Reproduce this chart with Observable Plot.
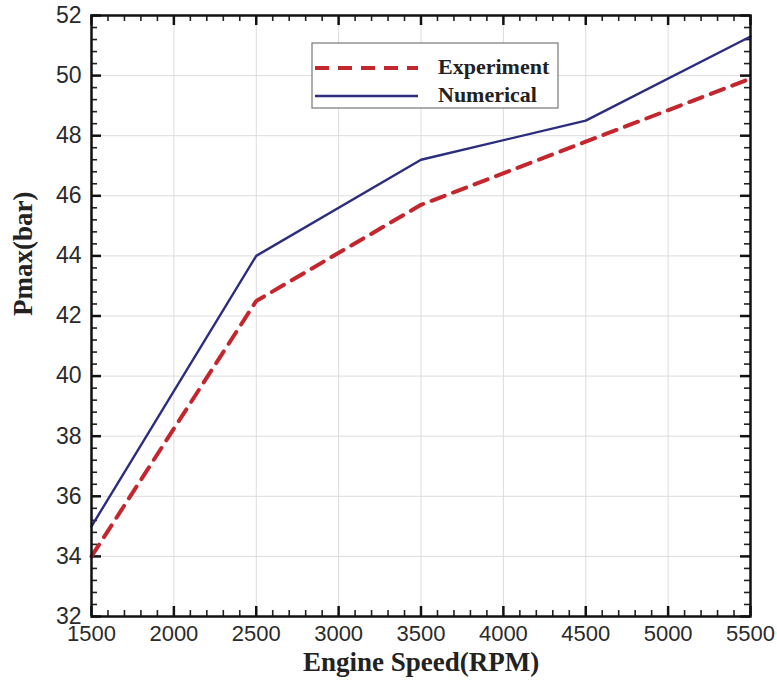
<!DOCTYPE html>
<html>
<head>
<meta charset="utf-8">
<script src="https://cdn.jsdelivr.net/npm/d3@7"></script>
<script src="https://cdn.jsdelivr.net/npm/@observablehq/plot@0.6"></script>
<style>
  html, body { margin: 0; padding: 0; background: #fff; }
  #chart { position: relative; width: 777px; height: 686px; }
</style>
</head>
<body>
<div id="chart"></div>
<script>
// ---- data ----
const speeds = [1500, 2500, 3500, 4500, 5500];
const experiment = [34.0, 42.5, 45.7, 47.8, 49.9];
const numerical = [35.0, 44.0, 47.2, 48.5, 51.3];
const seriesNames = ["Experiment", "Numerical"];
const xMajor = [1500, 2000, 2500, 3000, 3500, 4000, 4500, 5000, 5500];
const yMajor = [32, 34, 36, 38, 40, 42, 44, 46, 48, 50, 52];
const xMinor = d3.range(1500, 5501, 100).filter(v => v % 500 !== 0);
const yMinor = d3.range(32, 52.01, 0.4).map(v => +v.toFixed(1)).filter(v => Math.abs(v % 2) > 1e-6 && Math.abs(v % 2 - 2) > 1e-6);

const expData = speeds.map((s, i) => ({speed: s, p: experiment[i]}));
const numData = speeds.map((s, i) => ({speed: s, p: numerical[i]}));

const W = 777, H = 686;
const mL = 91, mR = 27, mT = 15, mB = 70;
const innerH = H - mT - mB;
const innerW = W - mL - mR;
const red = "#c4262e", blue = "#2c2d7e";

const plot = Plot.plot({
  width: W, height: H,
  marginLeft: mL, marginRight: mR, marginTop: mT, marginBottom: mB,
  style: {background: "#fff", overflow: "visible"},
  x: {domain: [1500, 5500]},
  y: {domain: [32, 52]},
  marks: [
    Plot.gridX(xMajor, {stroke: "#dcdcdc", strokeOpacity: 1, strokeWidth: 1}),
    Plot.gridY(yMajor, {stroke: "#dcdcdc", strokeOpacity: 1, strokeWidth: 1}),
    // tick labels
    Plot.axisX(xMajor, {anchor: "bottom", tickSize: 0, tickPadding: 9, label: null,
      fontSize: 22, fontFamily: "Liberation Sans, Arial, sans-serif", fill: "#2a2a2a",
      tickFormat: d => String(d)}),
    Plot.axisY(yMajor, {anchor: "left", tickSize: 0, tickPadding: 10, label: null,
      fontSize: 23, fontFamily: "Liberation Sans, Arial, sans-serif", fill: "#2a2a2a",
      tickFormat: d => String(d)}),
    // inward ticks: bottom / top
    Plot.tickX(xMajor, {x: d => d, insetTop: innerH - 10, stroke: "#111", strokeWidth: 2.5}),
    Plot.tickX(xMajor, {x: d => d, insetBottom: innerH - 10, stroke: "#111", strokeWidth: 2.5}),
    Plot.tickX(xMinor, {x: d => d, insetTop: innerH - 6, stroke: "#222", strokeWidth: 1.6}),
    Plot.tickX(xMinor, {x: d => d, insetBottom: innerH - 6, stroke: "#222", strokeWidth: 1.6}),
    // inward ticks: left / right
    Plot.tickY(yMajor, {y: d => d, insetRight: innerW - 10, stroke: "#111", strokeWidth: 2.5}),
    Plot.tickY(yMajor, {y: d => d, insetLeft: innerW - 10, stroke: "#111", strokeWidth: 2.5}),
    Plot.tickY(yMinor, {y: d => d, insetRight: innerW - 6, stroke: "#222", strokeWidth: 1.6}),
    Plot.tickY(yMinor, {y: d => d, insetLeft: innerW - 6, stroke: "#222", strokeWidth: 1.6}),
    // data
    Plot.line(expData, {x: "speed", y: "p", stroke: red, strokeWidth: 4, strokeDasharray: "14,9", strokeLinejoin: "miter"}),
    Plot.line(numData, {x: "speed", y: "p", stroke: blue, strokeWidth: 2.4}),
    Plot.frame({stroke: "#111", strokeWidth: 2.5}),
    // axis titles
    Plot.text(["Engine Speed(RPM)"], {frameAnchor: "bottom", dy: 35, lineAnchor: "top", text: d => d,
      fontSize: 27, fontWeight: "bold", fontFamily: "Liberation Serif, Times New Roman, serif", fill: "#222"}),
    Plot.text(["Pmax(bar)"], {frameAnchor: "left", dx: -68, rotate: -90, text: d => d,
      fontSize: 27, fontWeight: "bold", fontFamily: "Liberation Serif, Times New Roman, serif", fill: "#222"})
  ]
});
document.getElementById("chart").appendChild(plot);

// legend (inside the plot area, top centre)
const svg = d3.select(plot);
const lg = svg.append("g").attr("class", "legend");
lg.append("rect").attr("x", 312).attr("y", 43).attr("width", 246).attr("height", 65)
  .attr("fill", "#fff").attr("stroke", "#777").attr("stroke-width", 1.2);
const items = [
  {name: seriesNames[0], color: red, width: 4, dash: "14,9", y: 68},
  {name: seriesNames[1], color: blue, width: 2.4, dash: null, y: 96}
];
items.forEach(it => {
  lg.append("line").attr("x1", 315).attr("x2", 418).attr("y1", it.y).attr("y2", it.y)
    .attr("stroke", it.color).attr("stroke-width", it.width)
    .attr("stroke-dasharray", it.dash);
  lg.append("text").attr("x", 438).attr("y", it.y - 2).attr("dy", "0.35em")
    .attr("text-anchor", "start")
    .attr("font-family", "Liberation Serif, Times New Roman, serif")
    .attr("font-weight", "bold").attr("font-size", 22).attr("fill", "#222")
    .text(it.name);
});
</script>
</body>
</html>
